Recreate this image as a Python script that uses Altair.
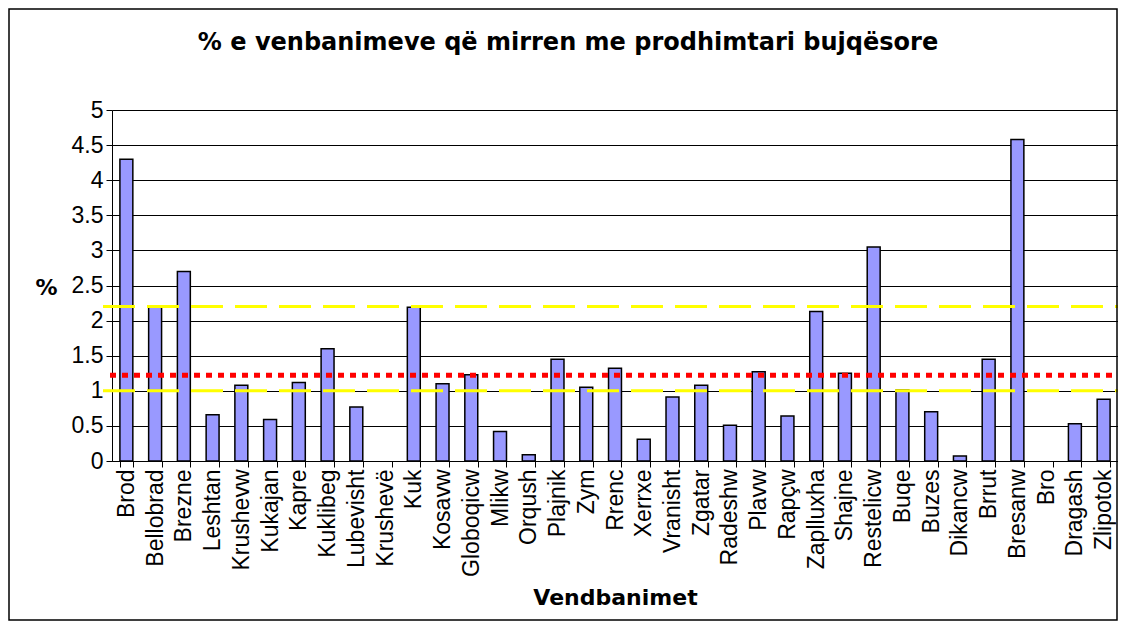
import altair as alt
import pandas as pd

TITLE = "% e venbanimeve që mirren me prodhimtari bujqësore"
X_TITLE = "Vendbanimet"
Y_TITLE = "%"

PLACES = ["Brod", "Bellobrad", "Brezne", "Leshtan", "Krushevw", "Kukajan", "Kapre",
          "Kuklibeg", "Lubevisht", "Krushevë", "Kuk", "Kosavw", "Globoqicw", "Mlikw",
          "Orqush", "Plajnik", "Zym", "Rrenc", "Xerrxe", "Vranisht", "Zgatar", "Radeshw",
          "Plavw", "Rapçw", "Zaplluxha", "Shajne", "Restelicw", "Buqe", "Buzes",
          "Dikancw", "Brrut", "Bresanw", "Bro", "Dragash", "Zlipotok"]
VALUES = [4.30, 2.19, 2.70, 0.66, 1.08, 0.59, 1.12,
          1.60, 0.77, 0.0, 2.19, 1.10, 1.23, 0.42,
          0.09, 1.45, 1.05, 1.32, 0.31, 0.91, 1.08, 0.51,
          1.27, 0.64, 2.13, 1.25, 3.05, 1.01, 0.70,
          0.07, 1.45, 4.58, 0.0, 0.53, 0.88]
YELLOW_LINES = [2.2, 1.0]
RED_LINES = [1.22]
Y_TICKS = [0, 0.5, 1, 1.5, 2, 2.5, 3, 3.5, 4, 4.5, 5]

W, H = 1006, 351

df = pd.DataFrame({"place": PLACES, "value": VALUES})
df_yellow = pd.DataFrame({"value": YELLOW_LINES})
df_red = pd.DataFrame({"value": RED_LINES})
df_one = pd.DataFrame({"t": [TITLE]})

yscale = alt.Scale(domain=[0, 5], nice=False)
yaxis = alt.Axis(title=Y_TITLE, values=Y_TICKS, format=".1~f", labelOverlap=False,
                 titleFont="DejaVu Sans", titleFontWeight="bold", titleFontSize=22,
                 titleColor="black", titleAngle=0, titleX=-66, titleY=184,
                 titleAlign="center", titleBaseline="alphabetic",
                 labelFont="Liberation Sans", labelFontSize=23, labelColor="black",
                 labelPadding=3, tickColor="black", tickSize=6,
                 domainColor="black", grid=True, gridColor="black", gridWidth=1)


def yenc():
    return alt.Y("value:Q", scale=yscale, axis=yaxis)


bars = alt.Chart(df).mark_bar(fill="#9999FF", stroke="black", strokeWidth=1.5).encode(
    x=alt.X("place:N", sort=PLACES,
            scale=alt.Scale(paddingInner=0.55, paddingOuter=0.275),
            axis=alt.Axis(title=X_TITLE, titleFont="DejaVu Sans", titleFontWeight="bold",
                          titleFontSize=22, titleColor="black", titleX=W / 2, titleY=143,
                          titleBaseline="alphabetic", titleAlign="center",
                          labelAngle=-90, labelFont="Liberation Sans", labelFontSize=23,
                          labelColor="black", labelPadding=2, tickColor="black", tickSize=6,
                          tickBand="extent", domainColor="black", grid=False)),
    y=yenc(),
    strokeOpacity=alt.condition(alt.datum.value > 0, alt.value(1), alt.value(0)),
)

yellow = alt.Chart(df_yellow).mark_rule(color="#FFFF00", strokeWidth=3,
                                        strokeDash=[32, 12]).encode(
    y=yenc(), x=alt.value(-9), x2=alt.value(W))

red = alt.Chart(df_red).mark_rule(color="#FF0000", strokeWidth=5,
                                  strokeDash=[6, 6]).encode(
    y=yenc(), x=alt.value(-2), x2=alt.value(W))

frame = alt.Chart(df_one).mark_rect(filled=False, stroke="black", strokeWidth=1.5).encode(
    x=alt.value(-103), x2=alt.value(W - 1), y=alt.value(-101), y2=alt.value(H + 159))

title = alt.Chart(df_one).mark_text(font="DejaVu Sans", fontWeight="bold", fontSize=24,
                                    align="center", baseline="alphabetic",
                                    color="black").encode(
    text="t:N", x=alt.value(456), y=alt.value(-60))

chart = alt.layer(bars, yellow, red, frame, title).properties(
    width=W, height=H,
    autosize=alt.AutoSizeParams(type="none"),
    padding={"left": 104, "top": 102, "right": 0, "bottom": 161},
).configure_view(fill="#C0C0C0", stroke="#808080").configure(background="white")

chart.save("out.html", embed_options={"renderer": "svg", "actions": False})
